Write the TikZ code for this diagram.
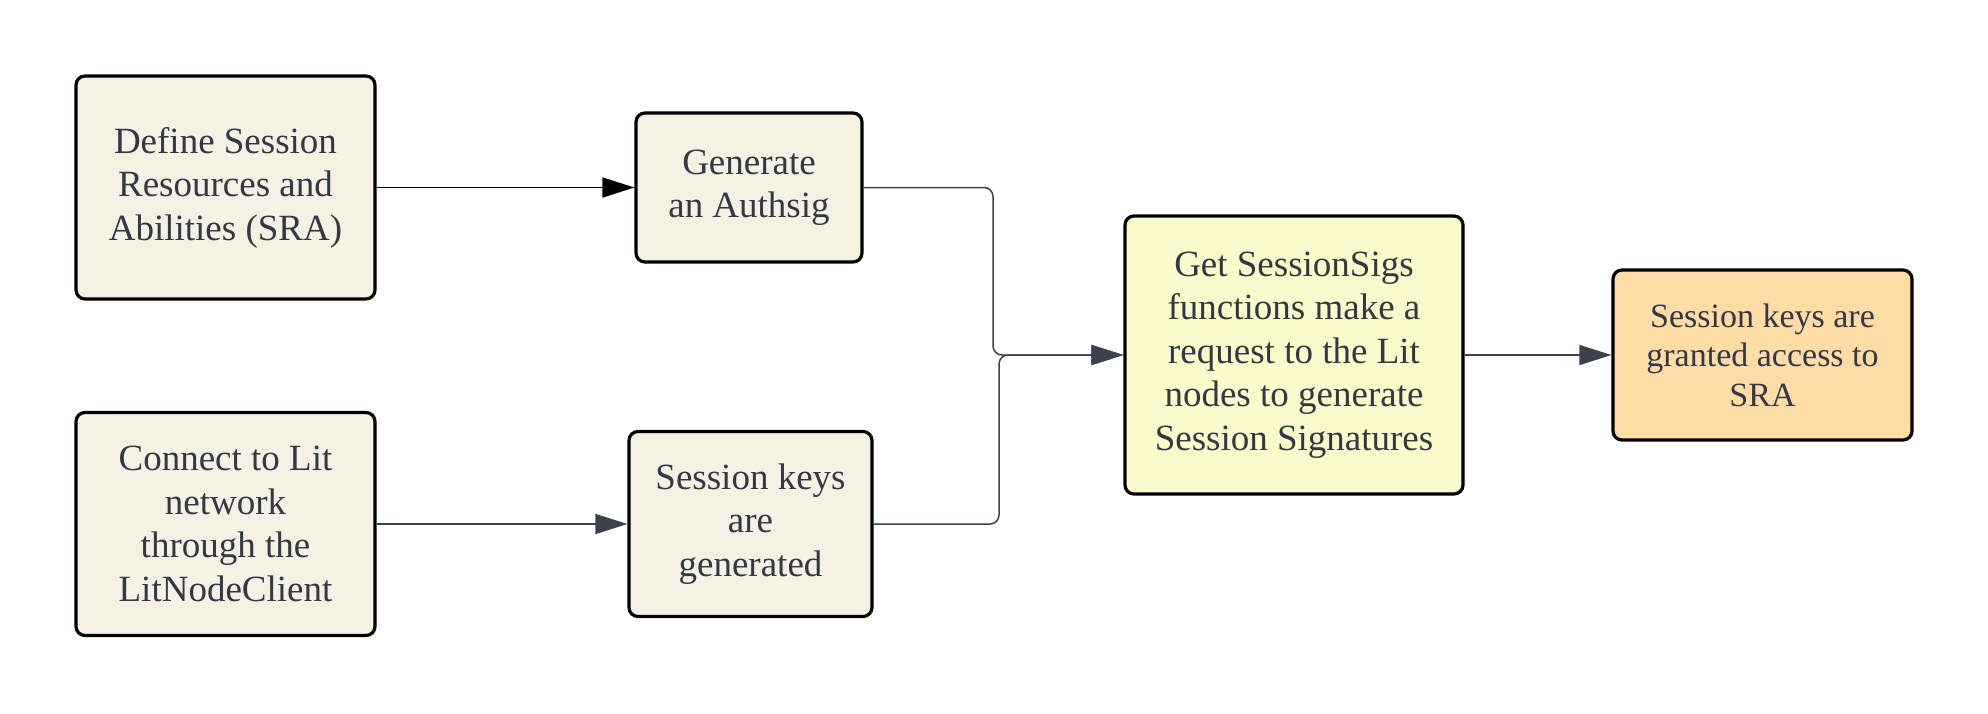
\documentclass[tikz,border=0pt]{standalone}
\usepackage{fontspec}
\setmainfont{Liberation Serif}
\usetikzlibrary{arrows.meta}
\definecolor{txt}{HTML}{333844}
\definecolor{beige}{HTML}{F5F2E3}
\definecolor{lyellow}{HTML}{FBFACB}
\definecolor{lorange}{HTML}{FDDCA5}
\definecolor{edge}{HTML}{3B414D}
\tikzset{
  box/.style={draw=black, line width=3.2pt, rounded corners=9pt, fill=beige,
    text=txt, align=center, inner sep=0pt, font=\fontsize{37}{43.5}\selectfont},
  conn/.style={draw=edge, line width=1.5pt, -{Triangle[length=32pt,width=20pt]}},
}
\begin{document}
\begin{tikzpicture}[x=1pt,y=-1pt]
\useasboundingbox (0,0) rectangle (1988,713);
\node[box, minimum width=299pt, minimum height=223pt] (A) at (225.5,187.5) {Define Session\\Resources and\\Abilities (SRA)};
\node[box, minimum width=226pt, minimum height=149pt] (B) at (749,187.5) {Generate\\an Authsig};
\node[box, minimum width=299pt, minimum height=223pt] (C) at (225.5,524) {Connect to Lit\\network\\through the\\LitNodeClient};
\node[box, minimum width=243pt, minimum height=185pt] (D) at (750.5,524) {Session keys\\are\\generated};
\node[box, fill=lyellow, minimum width=338pt, minimum height=278pt] (E) at (1294,355) {Get SessionSigs\\functions make a\\request to the Lit\\nodes to generate\\Session Signatures};
\node[box, fill=lorange, minimum width=299pt, minimum height=170pt, font=\fontsize{34}{39.5}\selectfont] (F) at (1762.5,355) {Session keys are\\granted access to\\SRA};
\coordinate (m1) at (993,355);
\coordinate (m2) at (999,355);
\draw[conn, draw=black] (A.east) -- (B.west);
\draw[conn] (C.east) -- (D.west);
\draw[conn, rounded corners=9pt] (B.east) -| (m1) -- (E.west);
\draw[conn, rounded corners=9pt] (D.east) -| (m2) -- (E.west);
\draw[conn] (E.east) -- (F.west);
\end{tikzpicture}
\end{document}
